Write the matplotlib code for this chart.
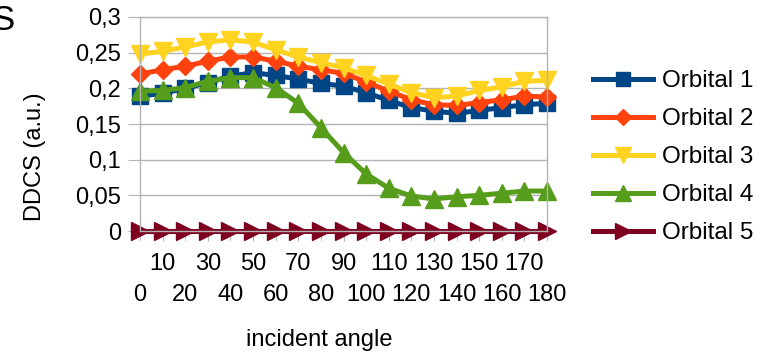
import matplotlib
matplotlib.use("Agg")
import matplotlib.pyplot as plt
from matplotlib.ticker import FuncFormatter, FixedLocator, FixedFormatter

plt.rcParams['font.family'] = ['Liberation Sans', 'DejaVu Sans']

angles = [0, 10, 20, 30, 40, 50, 60, 70, 80, 90, 100, 110, 120, 130, 140, 150, 160, 170, 180]
orbital1 = [0.189, 0.193, 0.200, 0.208, 0.217, 0.222, 0.218, 0.213, 0.207, 0.203, 0.194, 0.183, 0.173, 0.168, 0.165, 0.169, 0.173, 0.177, 0.179]
orbital2 = [0.220, 0.226, 0.231, 0.238, 0.244, 0.244, 0.238, 0.231, 0.226, 0.221, 0.209, 0.196, 0.184, 0.177, 0.176, 0.180, 0.184, 0.189, 0.188]
orbital3 = [0.248, 0.252, 0.258, 0.265, 0.268, 0.265, 0.254, 0.244, 0.236, 0.229, 0.218, 0.206, 0.194, 0.187, 0.189, 0.197, 0.202, 0.210, 0.211]
orbital4 = [0.196, 0.197, 0.201, 0.210, 0.215, 0.215, 0.201, 0.179, 0.145, 0.110, 0.080, 0.060, 0.049, 0.045, 0.048, 0.050, 0.053, 0.056, 0.056]
orbital5 = [0.0] * 19

series = [orbital1, orbital2, orbital3, orbital4, orbital5]
labels = ["Orbital 1", "Orbital 2", "Orbital 3", "Orbital 4", "Orbital 5"]
colors = ["#004586", "#ff420e", "#ffd320", "#579d1c", "#7e0021"]
markers = ["s", "D", "v", "^", ">"]
msizes = [12, 9, 13, 13, 13]

W, H = 768, 354
fig = plt.figure(figsize=(W / 100, H / 100), dpi=100)
L, R, T, B = 140, 547, 17, 231
ax = fig.add_axes([L / W, 1 - B / H, (R - L) / W, (B - T) / H])

x = list(range(len(angles)))
for s, lab, c, m, ms in zip(series, labels, colors, markers, msizes):
    ax.plot(x, s, color=c, lw=3.6, marker=m, markersize=ms, label=lab, clip_on=False)

ax.set_xlim(0, len(angles) - 1)
ax.set_ylim(0, 0.3)
ax.yaxis.set_major_locator(FixedLocator([0, 0.05, 0.1, 0.15, 0.2, 0.25, 0.3]))
ax.yaxis.set_major_formatter(FuncFormatter(lambda v, p: f"{v:.2f}".rstrip('0').rstrip(',.').replace('.', ',') if v != 0 else "0"))

odd_pos = [i for i in x if i % 2 == 1]
even_pos = [i for i in x if i % 2 == 0]
ax.xaxis.set_major_locator(FixedLocator(odd_pos))
ax.xaxis.set_major_formatter(FixedFormatter([str(angles[i]) for i in odd_pos]))
ax.xaxis.set_minor_locator(FixedLocator(even_pos))
ax.xaxis.set_minor_formatter(FixedFormatter([str(angles[i]) for i in even_pos]))

grid_c = "#b3b3b3"
ax.grid(axis='y', color=grid_c, lw=1)
ax.set_axisbelow(True)
for sp in ax.spines.values():
    sp.set_color(grid_c)
    sp.set_linewidth(1)
ax.tick_params(axis='y', length=8.6, color=grid_c, labelsize=17, pad=5)
ax.tick_params(axis='x', which='major', length=7.2, color=grid_c, labelsize=17, pad=9)
ax.tick_params(axis='x', which='minor', length=7.2, color=grid_c, labelsize=17, pad=31)

fig.text(35 / W, 1 - 157 / H, "DDCS (a.u.)", rotation=90, ha='center', va='center', fontsize=17)
fig.text(319 / W, 1 - 340 / H, "incident angle", ha='center', va='center', fontsize=17)
fig.text(15 / W, 1 - 21 / H, "S", ha='right', va='center', fontsize=25)

leg = fig.legend(loc='upper left', bbox_to_anchor=(593 / W, 1 - 70 / H), frameon=False,
                 fontsize=17.5, handlelength=2.45, handletextpad=0.4, labelspacing=0.66,
                 borderpad=0, borderaxespad=0, numpoints=1, markerscale=0.85)

fig.savefig("out.png", dpi=100)
